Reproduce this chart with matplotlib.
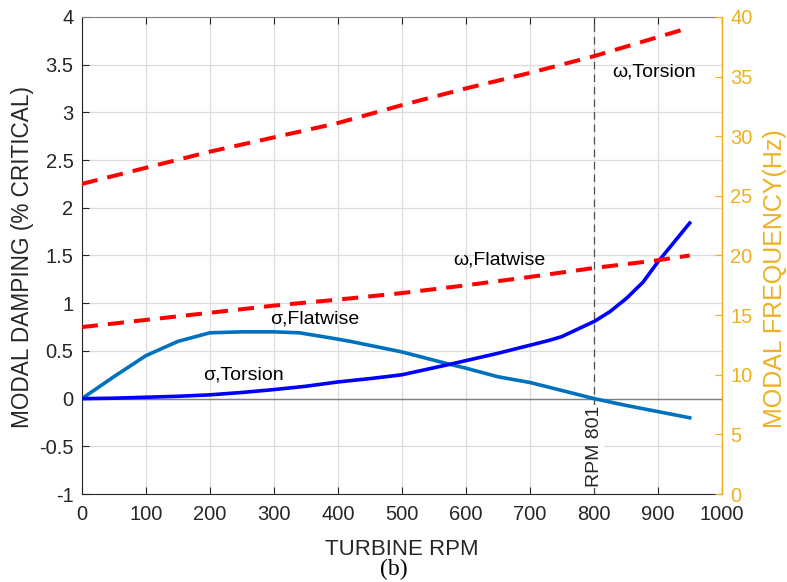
import matplotlib
matplotlib.use("Agg")
from matplotlib import pyplot as plt

plt.rcParams['font.family'] = ['Liberation Sans', 'DejaVu Sans']

# modal frequencies (Hz) vs turbine rpm
rpm_freq = [0, 100, 200, 300, 400, 500, 600, 700, 800, 900, 950]
freq_torsion = [26.0, 27.35, 28.7, 29.9, 31.1, 32.6, 34.0, 35.3, 36.7, 38.3, 39.1]
freq_flatwise = [14.0, 14.6, 15.2, 15.8, 16.3, 16.85, 17.5, 18.2, 18.95, 19.6, 20.0]

# modal damping (% critical) vs turbine rpm
rpm_flat = [0, 50, 100, 150, 200, 250, 300, 340, 390, 420, 500, 575, 600, 650,
            700, 730, 801, 850, 900, 950]
damp_flatwise = [0.0, 0.23, 0.45, 0.60, 0.69, 0.70, 0.70, 0.69, 0.635, 0.60, 0.49, 0.36,
                 0.32, 0.23, 0.17, 0.12, 0.0, -0.07, -0.135, -0.2]
rpm_tors = [0, 50, 100, 150, 200, 250, 300, 350, 400, 450, 500, 575, 650, 730, 750,
            801, 825, 851, 877, 900, 950]
damp_torsion = [0.0, 0.005, 0.015, 0.025, 0.04, 0.065, 0.095, 0.13, 0.175, 0.21, 0.25,
                0.36, 0.475, 0.61, 0.65, 0.81, 0.91, 1.05, 1.22, 1.43, 1.84]

CRITICAL_RPM = 801

fig = plt.figure(figsize=(7.87, 5.82), dpi=100)
ax = fig.add_axes([0.104, 0.151, 0.813, 0.820])
ax2 = ax.twinx()

ax.set_xlim(0, 1000)
ax.set_ylim(-1, 4)
ax2.set_ylim(0, 40)
ax.set_xticks(range(0, 1001, 100))
ax.set_yticks([-1, -0.5, 0, 0.5, 1, 1.5, 2, 2.5, 3, 3.5, 4])
ax.set_yticklabels(["-1", "-0.5", "0", "0.5", "1", "1.5", "2", "2.5", "3", "3.5", "4"])
ax2.set_yticks(range(0, 41, 5))
ax.grid(True, color="#dcdcdc", linewidth=0.9)
ax.set_axisbelow(True)

ax.axhline(0, color="#808080", linewidth=1.0, zorder=1)
ax.axvline(CRITICAL_RPM, color="#505050", linewidth=0.9, linestyle=(0, (6, 4)), zorder=1)

ax.plot(rpm_flat, damp_flatwise, color="#0072BD", linewidth=2.6, zorder=3)
ax.plot(rpm_tors, damp_torsion, color="#0000FF", linewidth=2.6, zorder=3)
ax2.plot(rpm_freq, freq_torsion, color="#FF0000", linewidth=2.9, linestyle=(0, (4, 2.5)))
ax2.plot(rpm_freq, freq_flatwise, color="#FF0000", linewidth=2.9, linestyle=(0, (4, 2.5)))

txt = dict(fontsize=14, color="black", ha="center", va="center")
ax.text(895, 3.42, "ω,Torsion", **txt)
ax.text(653, 1.45, "ω,Flatwise", **txt)
ax.text(364, 0.83, "σ,Flatwise", **txt)
ax.text(252, 0.25, "σ,Torsion", **txt)
ax.text(CRITICAL_RPM, -0.07, "RPM 801", rotation=90, fontsize=14, color="#262626",
        ha="center", va="top", zorder=2,
        bbox=dict(facecolor="white", edgecolor="none", pad=0.5))

tick_color = "#262626"
ax.tick_params(axis="both", direction="in", labelsize=14.5, colors=tick_color, length=5,
               top=True, pad=8)
ax.tick_params(axis="y", left=True, pad=6)
ax2.tick_params(axis="y", direction="in", labelsize=14.5, colors="#EDB120", length=5, pad=6)
for side in ["left", "bottom"]:
    ax.spines[side].set_color(tick_color)
ax.spines["top"].set_color("#808080")
ax2.spines["right"].set_color("#EDB120")
ax2.spines["top"].set_visible(False)
ax2.spines["left"].set_visible(False)
ax2.spines["bottom"].set_visible(False)

# axis titles placed in figure coordinates
fig.text(0.511, 0.055, "TURBINE RPM", fontsize=16, color=tick_color,
         ha="center", va="center")
fig.text(0.029, 0.558, "MODAL DAMPING (% CRITICAL)", fontsize=16.3, color=tick_color,
         rotation=90, ha="center", va="center")
fig.text(0.985, 0.522, "MODAL FREQUENCY(Hz)", fontsize=18, color="#EDB120",
         rotation=90, ha="center", va="center")

fig.text(0.501, 0.004, "(b)", fontsize=17, family="Liberation Serif", ha="center",
         va="bottom", color="black")

fig.savefig("out.png", dpi=100)
